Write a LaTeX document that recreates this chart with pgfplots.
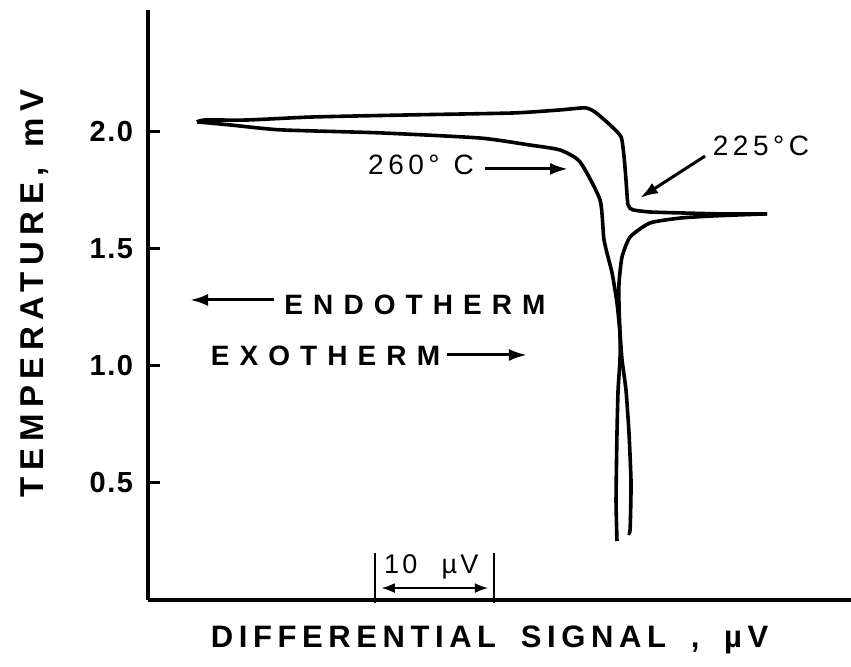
\documentclass[border=0pt]{standalone}
\usepackage{fontspec}
\setmainfont{Liberation Sans}
\newfontfamily\lsLab[LetterSpace=18]{Liberation Sans}
\newfontfamily\lsY[LetterSpace=20]{Liberation Sans}
\newfontfamily\lsTick[LetterSpace=5]{Liberation Sans}
\newfontfamily\lsB[LetterSpace=36]{Liberation Sans}
\newfontfamily\lsC[LetterSpace=16]{Liberation Sans}
\newfontfamily\lsD[LetterSpace=12]{Liberation Sans}
\usepackage{pgfplots}
\pgfplotsset{compat=1.18}
\usetikzlibrary{arrows.meta}
\begin{document}
\begin{tikzpicture}
\useasboundingbox (-74pt,-33pt) rectangle (351.5pt,300pt);
\begin{axis}[at={(0,0)}, anchor=south west, scale only axis,
  width=351.5pt, height=295pt,
  xmin=0, xmax=58.58, ymin=0, ymax=2.521,
  axis lines=left, axis line style={-, line width=1.6pt},
  xtick=\empty, ytick={0.5,1,1.5,2},
  yticklabels={0.5,1.0,1.5,2.0},
  tick align=inside, major tick length=6pt,
  tick style={line width=1.5pt, black},
  yticklabel style={font=\fontsize{14.5}{16}\lsTick\bfseries, xshift=-4pt},
  ylabel={TEMPERATURE,\hspace{0.6em}mV},
  ylabel style={at={(axis description cs:-0.161,0.52)}, anchor=center, font=\fontsize{16.5}{18}\lsY\bfseries},
  xlabel={DIFFERENTIAL\hspace{0.8em}SIGNAL\hspace{0.8em},\hspace{0.8em}µV},
  xlabel style={at={(axis description cs:0.486,-0.068)}, anchor=center, font=\fontsize{15.5}{17}\lsLab\bfseries},
  clip=false]
\addplot[black, line width=1.8pt, smooth, tension=0.35] coordinates {
(51.58,1.650) (47.67,1.650) (44.33,1.654) (41.83,1.658) (40.42,1.667) (40.0,1.688)
(39.83,1.795) (39.67,1.893) (39.42,1.979) (38.5,2.030) (37.25,2.085) (36.42,2.103)
(34.33,2.094) (30.42,2.081) (22.08,2.073) (13.75,2.064) (8.25,2.051) (4.75,2.051) (4.08,2.043)
};
\addplot[black, line width=1.8pt, smooth, tension=0.35] coordinates {
(4.08,2.043) (6.83,2.030) (11.0,2.009) (19.33,1.996) (27.67,1.974) (31.83,1.944)
(34.33,1.923) (36.0,1.872) (37.67,1.709) (38.0,1.538) (38.67,1.397) (39.08,1.269)
(39.33,1.141) (39.5,1.026) (39.83,0.897) (40.08,0.714) (40.25,0.500) (40.17,0.299) (40.0,0.286)
};
\addplot[black, line width=1.8pt, smooth, tension=0.35] coordinates {
(39.08,0.252) (39.0,0.427) (39.08,0.714) (39.17,0.897) (39.33,1.026) (39.33,1.141)
(39.25,1.252) (39.25,1.355) (39.5,1.466) (40.17,1.551) (41.83,1.611) (44.33,1.632)
(47.08,1.641) (51.58,1.650)
};
\node[font=\fontsize{14}{16}\lsC] at (axis cs:22.75,1.859) {260°\hspace{0.5em}C};
\draw[-{Latex[length=9pt,width=6pt]}, line width=1.5pt] (axis cs:28.08,1.842) -- (axis cs:35.0,1.842);
\node[font=\fontsize{14}{16}\lsC] at (axis cs:51.08,1.940) {225°C};
\draw[-{Latex[length=9pt,width=6pt]}, line width=1.5pt] (axis cs:46.42,1.897) -- (axis cs:41.0,1.718);
\node[font=\fontsize{14}{16}\lsB\bfseries] at (axis cs:22.25,1.261) {ENDOTHERM};
\draw[-{Latex[length=9pt,width=6pt]}, line width=1.5pt] (axis cs:10.5,1.282) -- (axis cs:3.5,1.282);
\node[font=\fontsize{14}{16}\lsB\bfseries] at (axis cs:14.79,1.043) {EXOTHERM};
\draw[-{Latex[length=9pt,width=6pt]}, line width=1.5pt] (axis cs:24.92,1.047) -- (axis cs:31.58,1.047);
\draw[line width=1.4pt] (axis cs:18.92,0.201) -- (axis cs:18.92,-0.013);
\draw[line width=1.4pt] (axis cs:28.83,0.201) -- (axis cs:28.83,-0.013);
\node[font=\fontsize{13.5}{15}\lsD] at (axis cs:23.6,0.14) {10\hspace{0.9em}µV};
\draw[{Latex[length=7pt,width=5pt]}-{Latex[length=7pt,width=5pt]}, line width=1.4pt] (axis cs:19.4,0.051) -- (axis cs:28.4,0.051);
\end{axis}
\end{tikzpicture}
\end{document}
